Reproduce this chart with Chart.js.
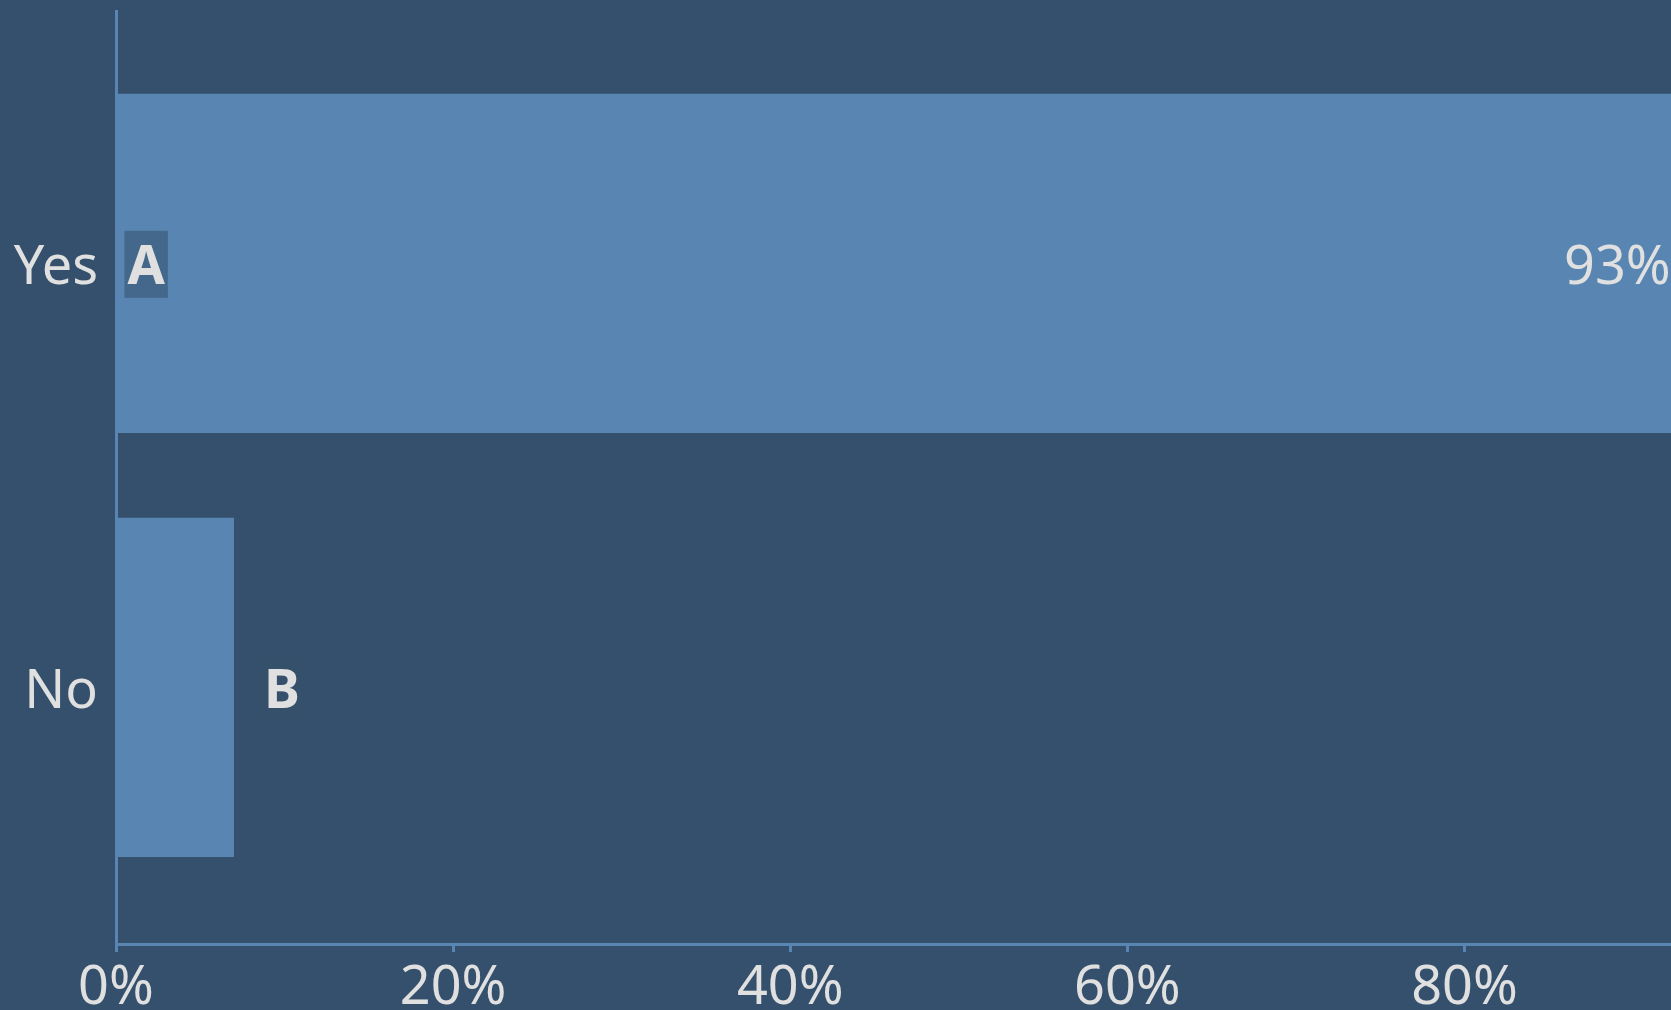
<!DOCTYPE html>
<html>
<head>
<meta charset="utf-8">
<script src="https://cdn.jsdelivr.net/npm/chart.js@4/dist/chart.umd.min.js"></script>
<style>
    html, body {
        margin: 0;
        padding: 0;
        overflow: hidden;
        background: #34506c;
    }
    #wrap {
        position: relative;
        width: 1671px;
        height: 1030px;
    }
</style>
</head>
<body>
<div id="wrap"><canvas id="barChart"></canvas></div>
<script>
// Chart data
const categories = ['Yes', 'No'];
const shares = [93, 7];
const barLetters = ['A', 'B'];
const xTicks = [0, 20, 40, 60, 80];

const bgColor = '#34506c';
const barColor = '#5885b1';
const textColor = '#e0e0e0';
const boxColor = 'rgba(52, 80, 108, 0.55)';
const fontSize = 54;
const textDrop = 5; // text sits a little below the bar centre

Chart.defaults.font.family = "'Noto Sans', 'Open Sans', sans-serif";
Chart.defaults.font.size = fontSize;
Chart.defaults.color = textColor;

// Letters and percentages drawn on the bars
const barLabelPlugin = {
    id: 'barLabels',
    afterDatasetsDraw(chart) {
        const ctx = chart.ctx;
        const meta = chart.getDatasetMeta(0);
        ctx.save();
        ctx.textBaseline = 'middle';
        meta.data.forEach((bar, i) => {
            const props = bar.getProps(['x', 'y', 'base'], true);
            const valueText = shares[i] + '%';
            const letter = barLetters[i];

            ctx.font = `bold ${fontSize}px ${Chart.defaults.font.family}`;
            const letterW = ctx.measureText(letter).width;
            ctx.font = `${fontSize}px ${Chart.defaults.font.family}`;
            const valueW = ctx.measureText(valueText).width;

            const barW = props.x - props.base;
            const inside = barW > letterW + valueW + 60;
            const pad = 3;
            const boxH = 67;

            let boxX;
            if (inside) {
                boxX = props.base + 7;
                // value at the end of the bar
                ctx.fillStyle = textColor;
                ctx.textAlign = 'right';
                ctx.fillText(valueText, props.x - 13, props.y + textDrop);
            } else {
                boxX = props.x + 27;
            }

            ctx.fillStyle = boxColor;
            ctx.fillRect(boxX, props.y - boxH / 2 + 1, letterW + pad * 2, boxH);
            ctx.font = `bold ${fontSize}px ${Chart.defaults.font.family}`;
            ctx.fillStyle = textColor;
            ctx.textAlign = 'left';
            ctx.fillText(letter, boxX + pad, props.y + textDrop);
        });
        ctx.restore();
    }
};

document.addEventListener('DOMContentLoaded', () => {
    const ctx = document.getElementById('barChart').getContext('2d');

    new Chart(ctx, {
        type: 'bar',
        data: {
            datasets: [{
                data: shares.map((v, i) => ({ x: v, y: i })),
                backgroundColor: barColor,
                borderWidth: 0,
                barPercentage: 0.8,
                categoryPercentage: 1
            }]
        },
        options: {
            indexAxis: 'y',
            responsive: true,
            maintainAspectRatio: false,
            animation: false,
            layout: {
                padding: { top: 11, left: 0, right: 0, bottom: 0 }
            },
            scales: {
                x: {
                    type: 'linear',
                    position: 'bottom',
                    min: 0,
                    max: 92.25,
                    offset: false,
                    afterBuildTicks: scale => {
                        scale.ticks = xTicks.map(v => ({ value: v }));
                    },
                    afterFit: scale => {
                        scale.height = 86;
                    },
                    ticks: {
                        padding: 4,
                        maxRotation: 0,
                        autoSkip: false,
                        callback: v => v + '%'
                    },
                    grid: {
                        display: true,
                        drawOnChartArea: false,
                        drawTicks: true,
                        tickLength: 8,
                        lineWidth: 3,
                        color: barColor
                    },
                    border: {
                        display: true,
                        color: barColor,
                        width: 3
                    }
                },
                y: {
                    type: 'linear',
                    position: 'left',
                    reverse: true,
                    offset: false,
                    bounds: 'data',
                    min: -0.595,
                    max: 1.605,
                    afterBuildTicks: scale => {
                        scale.ticks = categories.map((c, i) => ({ value: i }));
                    },
                    afterFit: scale => {
                        scale.width = 116;
                        scale.paddingTop = 0;
                        scale.paddingBottom = 0;
                    },
                    ticks: {
                        padding: 18,
                        autoSkip: false,
                        // empty first line nudges the label down by half a line
                        font: { lineHeight: (textDrop * 2) / fontSize },
                        callback: v => ['', categories[v]]
                    },
                    grid: {
                        display: false,
                        drawTicks: false,
                        offset: false
                    },
                    border: {
                        display: true,
                        color: barColor,
                        width: 3
                    }
                }
            },
            plugins: {
                legend: { display: false },
                tooltip: { enabled: false }
            }
        },
        plugins: [barLabelPlugin]
    });
});
</script>
</body>
</html>
